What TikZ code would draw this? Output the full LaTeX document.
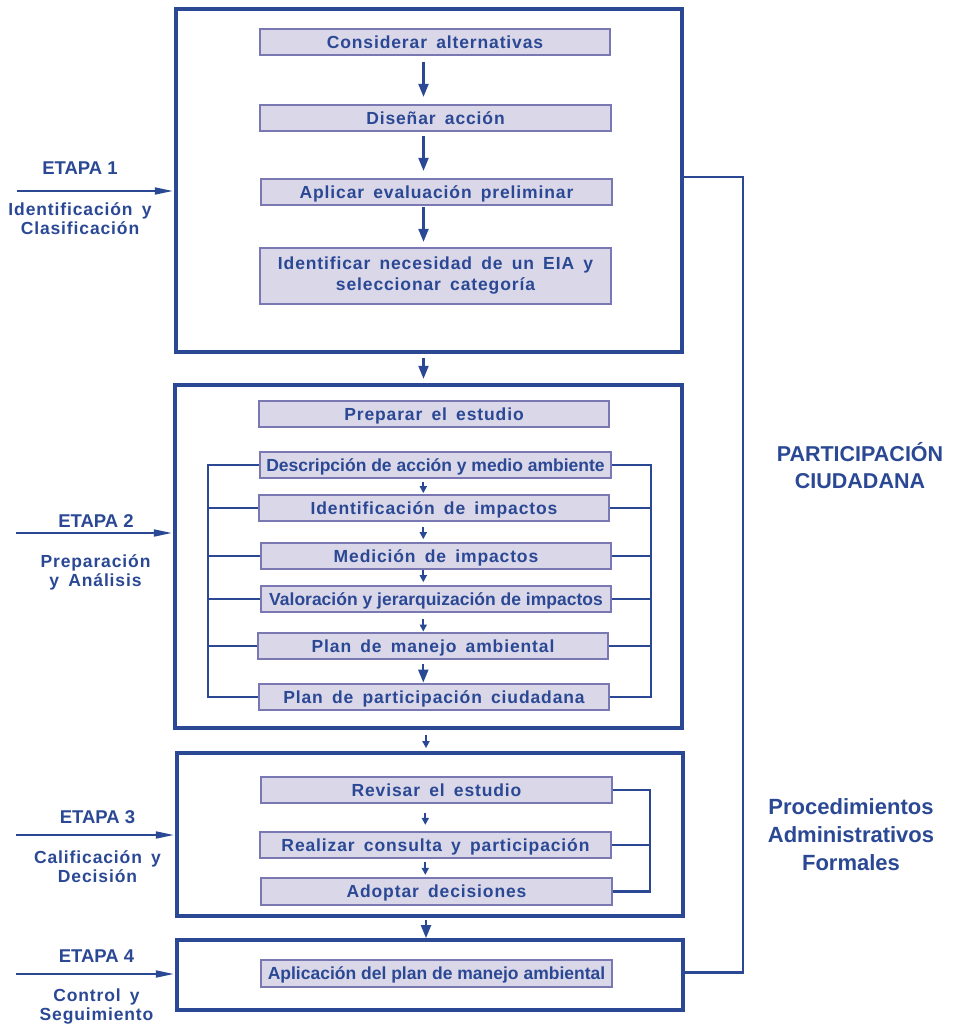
\documentclass[tikz,border=0pt]{standalone}
\usepackage{fontspec}
\setmainfont{Liberation Sans}
\newfontfamily\spcfont{Liberation Sans}[LetterSpace=5,WordSpace=1.6]
\usetikzlibrary{arrows.meta}
\definecolor{dblue}{RGB}{42,72,148}
\definecolor{boxfill}{RGB}{218,215,232}
\definecolor{boxline}{RGB}{122,120,178}
\begin{document}
\begin{tikzpicture}[x=1pt,y=-1pt,
  stage/.style={draw=dblue, line width=3.2pt, fill=white, inner sep=0pt},
  proc/.style={draw=boxline, line width=2.3pt, fill=boxfill, text=dblue,
    font=\spcfont\bfseries\fontsize{17.5}{21}\selectfont, inner sep=0pt,
    text height=12.5pt, text depth=0pt, align=center,
    minimum width=350pt, minimum height=26pt},
  tightproc/.style={proc, font=\bfseries\fontsize{17.5}{21}\selectfont},
  etapa/.style={anchor=base, text=dblue, inner sep=0pt, font=\bfseries\fontsize{18.5}{22}\selectfont},
  sublbl/.style={anchor=base, text=dblue, inner sep=0pt, align=center, font=\spcfont\bfseries\fontsize{17.5}{19}\selectfont},
  conn/.style={draw=dblue, line width=2.1pt},
  arrbig/.style={draw=dblue, line width=2.1pt, -{Triangle[length=13pt,width=10pt]}},
  arrsmall/.style={draw=dblue, line width=2.1pt, -{Triangle[length=7pt,width=7pt]}},
  arrin/.style={draw=dblue, line width=1.8pt, -{Triangle[length=18pt,width=7pt]}}
]
\useasboundingbox (0,0) rectangle (954,1024);
\fill[white] (0,0) rectangle (954,1024);

% stage frames
\node[stage, minimum width=506pt, minimum height=343pt] (st1) at (429,180.5) {};
\node[stage, minimum width=507pt, minimum height=343pt] (st2) at (428.5,556.5) {};
\node[stage, minimum width=506pt, minimum height=163pt] (st3) at (430,834.5) {};
\node[stage, minimum width=506pt, minimum height=70pt] (st4) at (430,975) {};

% stage 1
\node[proc] (s1a) at (435,42) {Considerar alternativas};
\node[proc, minimum width=351pt] (s1b) at (435.5,118) {Diseñar acción};
\node[proc, minimum width=351pt] (s1c) at (436.5,192) {Aplicar evaluación preliminar};
\node[proc, minimum width=351pt, minimum height=56pt, text height=33.5pt, text depth=5.5pt] (s1d) at (435.5,276)
  {Identificar necesidad de un EIA y\\seleccionar categoría};

% stage 2
\node[proc] (s2a) at (434,414) {Preparar el estudio};
\node[tightproc, minimum width=351pt] (s2b) at (435.5,465) {Descripción de acción y medio ambiente};
\node[proc] (s2c) at (434,508) {Identificación de impactos};
\node[proc] (s2d) at (436,556) {Medición de impactos};
\node[tightproc] (s2e) at (436,599) {Valoración y jerarquización de impactos};
\node[proc] (s2f) at (433,646) {Plan de manejo ambiental};
\node[proc] (s2g) at (434,697) {Plan de participación ciudadana};

% stage 3
\node[proc, minimum width=351pt] (s3a) at (436.5,790) {Revisar el estudio};
\node[proc, minimum width=351pt] (s3b) at (435.5,845) {Realizar consulta y participación};
\node[proc, minimum width=351pt, minimum height=27pt] (s3c) at (436.5,891.5) {Adoptar decisiones};

% stage 4
\node[tightproc, minimum width=351pt, minimum height=27pt] (s4a) at (436.5,973.5) {Aplicación del plan de manejo ambiental};

% arrows stage 1
\coordinate (ax) at (423.5,0);
\draw[arrbig, shorten <=6pt, shorten >=7pt] (s1a.south -| ax) -- (s1b.north -| ax);
\draw[arrbig, shorten <=4pt, shorten >=7pt] (s1b.south -| ax) -- (s1c.north -| ax);
\draw[arrbig, shorten <=1pt, shorten >=5pt] (s1c.south -| ax) -- (s1d.north -| ax);
\draw[arrbig, shorten <=4.6pt, shorten >=4.6pt] (st1.south -| ax) -- (st2.north -| ax);

% arrows stage 2
\coordinate (bx) at (423.3,0);
\draw[arrsmall, shorten <=2.7pt, shorten >=0.7pt] (s2b.south -| bx) -- (s2c.north -| bx);
\draw[arrsmall, shorten <=4.7pt, shorten >=2.7pt] (s2c.south -| bx) -- (s2d.north -| bx);
\draw[arrsmall, shorten <=0pt, shorten >=2.7pt] (s2d.south -| bx) -- (s2e.north -| bx);
\draw[arrsmall, shorten <=6pt, shorten >=0.3pt] (s2e.south -| bx) -- (s2f.north -| bx);
\draw[arrbig, shorten <=4.3pt, shorten >=0.3pt] (s2f.south -| bx) -- (s2g.north -| bx);

% stage 2 -> 3
\coordinate (cx) at (426,0);
\draw[arrsmall, shorten <=5pt, shorten >=3.3pt] (st2.south -| cx) -- (st3.north -| cx);

% arrows stage 3
\coordinate (dx) at (425.3,0);
\draw[arrsmall, shorten <=8.7pt, shorten >=6pt] (s3a.south -| dx) -- (s3b.north -| dx);
\draw[arrsmall, shorten <=2.7pt, shorten >=2pt] (s3b.south -| dx) -- (s3c.north -| dx);
\draw[arrbig, shorten <=2.6pt, shorten >=0.3pt] (st3.south -| cx) -- (st4.north -| cx);

% stage 2 brackets
\coordinate (L2) at (208,0);
\coordinate (R2) at (651,0);
\draw[conn] (s2b.west) -- (s2b.west -| L2) -- (s2g.west -| L2) -- (s2g.west);
\draw[conn] (s2b.east) -- (s2b.east -| R2) -- (s2g.east -| R2) -- (s2g.east);
\foreach \n in {s2c,s2d,s2e,s2f}{
  \draw[conn] (\n.west) -- (\n.west -| L2);
  \draw[conn] (\n.east) -- (\n.east -| R2);
}

% stage 3 bracket
\coordinate (R3) at (650,0);
\draw[conn] (s3a.east) -- (s3a.east -| R3) -- (s3c.east -| R3) -- (s3c.east);
\draw[conn] (s3b.east) -- (s3b.east -| R3);

% big right bracket
\coordinate (R4) at (743,0);
\draw[conn] ([yshift=3.5pt]st1.east) -- ([yshift=3.5pt]st1.east -| R4) -- ([yshift=2.5pt]st4.east -| R4) -- ([yshift=2.5pt]st4.east);

% left entry arrows
\coordinate (e1) at (17,191);
\coordinate (e2) at (16,533);
\coordinate (e3) at (16,835);
\coordinate (e4) at (16,974);
\draw[arrin, shorten >=1.6pt] (e1) -- (e1 -| st1.west);
\draw[arrin, shorten >=1.6pt] (e2) -- (e2 -| st2.west);
\draw[arrin, shorten >=1.6pt] (e3) -- (e3 -| st3.west);
\draw[arrin, shorten >=1.6pt] (e4) -- (e4 -| st4.west);

% left labels (base anchor = baseline of last line)
\node[etapa] (t1) at (80,175) {ETAPA 1};
\node[sublbl] (u1) at (80,234) {Identificación y\\Clasificación};
\node[etapa] (t2) at (96,527) {ETAPA 2};
\node[sublbl] (u2) at (95.5,586) {Preparación\\y Análisis};
\node[etapa] (t3) at (97.5,823) {ETAPA 3};
\node[sublbl] (u3) at (97.5,882) {Calificación y\\Decisión};
\node[etapa] (t4) at (96.5,962) {ETAPA 4};
\node[sublbl] (u4) at (96.5,1020.5) {Control y\\Seguimiento};

% right labels
\node[anchor=base, text=dblue, inner sep=0pt, align=center, font=\bfseries\fontsize{21.5}{26.7}\selectfont] (pc) at (860,488.3) {PARTICIPACIÓN\\CIUDADANA};
\node[anchor=base, text=dblue, inner sep=0pt, align=center, font=\bfseries\fontsize{22}{28.2}\selectfont] (pa) at (851,870.7) {Procedimientos\\Administrativos\\Formales};
\end{tikzpicture}
\end{document}
